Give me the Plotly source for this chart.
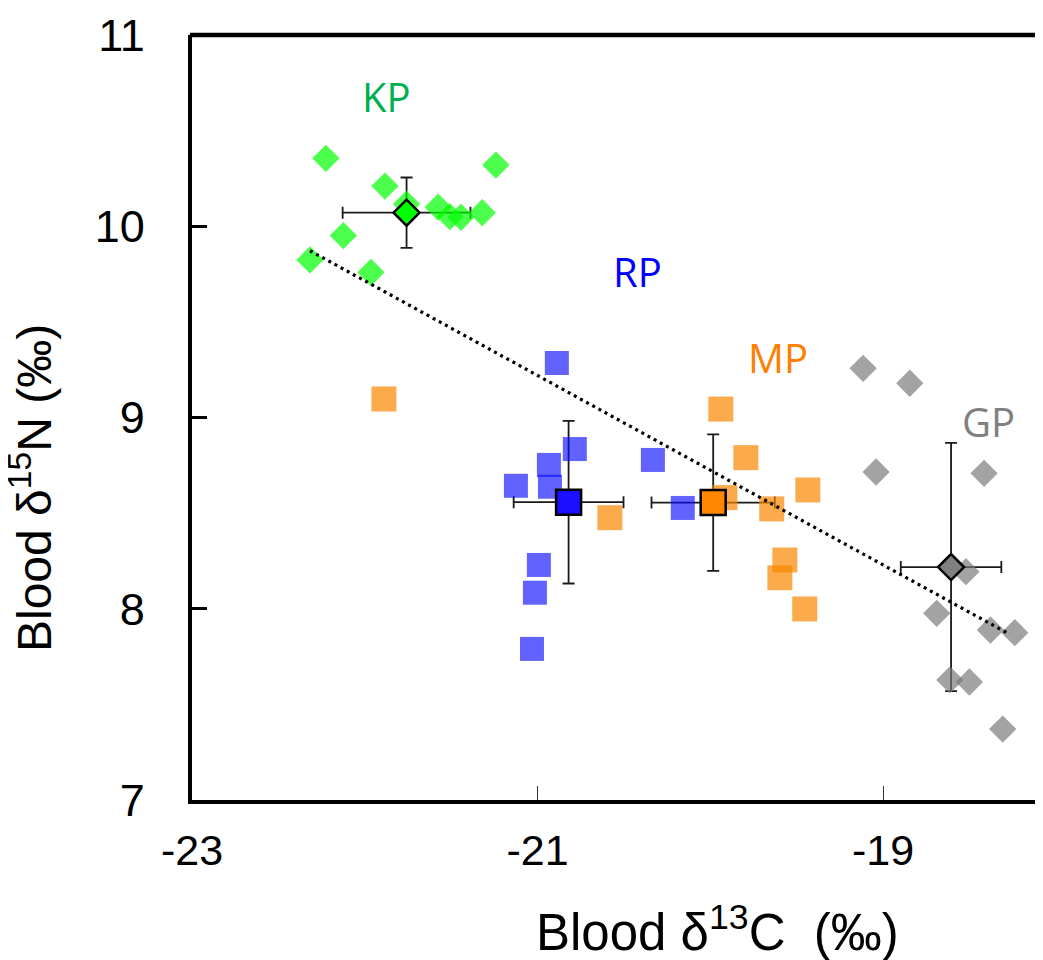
import plotly.graph_objects as go

# ---------------- data ----------------
kp_x = [-22.225, -21.883, -21.241, -21.758, -21.575, -21.507, -21.443, -21.320, -22.124, -22.317, -21.964]
kp_y = [10.355, 10.210, 10.320, 10.116, 10.100, 10.050, 10.047, 10.071, 9.951, 9.824, 9.759]

rp_x = [-20.888, -20.784, -20.934, -20.928, -21.125, -20.992, -21.015, -21.032, -20.332, -20.159]
rp_y = [9.285, 8.835, 8.752, 8.638, 8.643, 8.229, 8.084, 7.790, 8.778, 8.527]

mp_x = [-21.889, -20.581, -19.939, -19.794, -19.915, -19.644, -19.435, -19.568, -19.597, -19.453]
mp_y = [9.097, 8.476, 9.044, 8.790, 8.581, 8.522, 8.621, 8.255, 8.162, 7.999]

gp_x = [-19.115, -18.845, -19.040, -18.415, -18.520, -18.689, -18.378, -18.237, -18.613, -18.500, -18.307]
gp_y = [9.257, 9.179, 8.715, 8.708, 8.194, 7.976, 7.889, 7.875, 7.628, 7.617, 7.371]

groups = ["KP", "RP", "MP", "GP"]
mean_x = [-21.758, -20.820, -19.983, -18.606]
mean_y = [10.071, 8.557, 8.555, 8.218]
sd_x = [0.370, 0.318, 0.357, 0.291]
sd_y = [0.184, 0.425, 0.357, 0.649]

label_x = [-21.877, -20.422, -19.606, -18.388]
label_y = [10.678, 9.761, 9.316, 8.979]

trend_x = [-22.317, -18.266]
trend_y = [9.872, 7.866]

x_ticks = [-23, -21, -19]
y_ticks = [7, 8, 9, 10, 11]

# ---------------- styles ----------------
ind_colors = ["rgba(0,255,0,0.70)", "rgba(10,10,255,0.64)", "rgba(250,136,0,0.70)", "rgba(120,120,120,0.68)"]
mean_colors = ["#00ff00", "#1a10ff", "#ff8800", "#808080"]
label_colors = ["#00b050", "#0000ff", "#ff8000", "#808080"]
ind_symbols = ["diamond", "square", "square", "diamond"]
ind_sizes = [21, 24, 25, 21]
mean_sizes = [20, 25, 25, 20]
ind_data = [(kp_x, kp_y), (rp_x, rp_y), (mp_x, mp_y), (gp_x, gp_y)]

# page body has an 8px margin: figure is shifted by 8px
PL, PT, PW, PH = 184, 27, 851, 765
FIG_W, FIG_H = PL + PW, 952

fig = go.Figure()

# error bars (beneath the points)
for i, g in enumerate(groups):
    fig.add_trace(go.Scatter(
        x=[mean_x[i]], y=[mean_y[i]], mode="markers",
        marker=dict(size=4, color="rgba(0,0,0,0)"),
        error_x=dict(type="data", array=[sd_x[i]], color="#1a1a1a", thickness=1.8, width=6),
        error_y=dict(type="data", array=[sd_y[i]], color="#1a1a1a", thickness=1.8, width=6),
        showlegend=False, hoverinfo="skip"))

# individual points
for i, g in enumerate(groups):
    xs, ys = ind_data[i]
    fig.add_trace(go.Scatter(
        x=xs, y=ys, mode="markers", name=g,
        marker=dict(symbol=ind_symbols[i], size=ind_sizes[i], color=ind_colors[i], line=dict(width=0)),
        showlegend=False))

# regression line
fig.add_trace(go.Scatter(
    x=trend_x, y=trend_y, mode="lines",
    line=dict(color="black", width=3.2, dash="3px,4px"),
    showlegend=False, hoverinfo="skip"))

# group means
for i, g in enumerate(groups):
    fig.add_trace(go.Scatter(
        x=[mean_x[i]], y=[mean_y[i]], mode="markers", name=g + " mean",
        marker=dict(symbol=ind_symbols[i], size=mean_sizes[i], color=mean_colors[i],
                    line=dict(width=2.5, color="black")),
        showlegend=False))

# group labels
for i, g in enumerate(groups):
    fig.add_annotation(x=label_x[i], y=label_y[i], text=g, showarrow=False,
                       font=dict(family="Open Sans", size=40, color=label_colors[i]),
                       xanchor="center", yanchor="middle")

# axis titles as annotations (positions in page pixels relative to plot area)
fig.add_annotation(xref="paper", yref="paper", x=(717 - 192) / PW, y=-(929 - 800) / PH,
                   text="Blood δ<sup>13</sup>C  (‰)", showarrow=False,
                   font=dict(family="Liberation Sans, Arial", size=51, color="black"),
                   xanchor="center", yanchor="middle")
fig.add_annotation(xref="paper", yref="paper", x=-(192 - 31) / PW, y=(800 - 488) / PH,
                   text="Blood δ<sup>15</sup>N (‰)", showarrow=False, textangle=-90,
                   font=dict(family="Liberation Sans, Arial", size=48, color="black"),
                   xanchor="center", yanchor="middle")

# top border
fig.add_shape(type="line", xref="paper", yref="paper", x0=-0.0025, x1=1, y0=1, y1=1,
              line=dict(color="black", width=4.3))

fig.update_layout(
    width=FIG_W, height=FIG_H,
    margin=dict(l=PL, r=0, t=PT, b=FIG_H - PT - PH),
    paper_bgcolor="white", plot_bgcolor="white",
    xaxis=dict(range=[-23, -23 + PW / 172.75], tickvals=x_ticks, ticktext=[str(v) for v in x_ticks],
               showgrid=False, zeroline=False, showline=True, linecolor="black", linewidth=4.3,
               ticks="inside", ticklen=14, tickwidth=1, tickcolor="#333",
               tickfont=dict(family="Liberation Sans, Arial", size=43, color="black"),
               ticklabelstandoff=9),
    yaxis=dict(range=[7, 11], tickvals=y_ticks, ticktext=[str(v) for v in y_ticks],
               showgrid=False, zeroline=False, showline=True, linecolor="black", linewidth=4.3,
               ticks="inside", ticklen=15, tickwidth=3, tickcolor="black",
               tickfont=dict(family="Liberation Sans, Arial", size=45, color="black"),
               ticklabelstandoff=34),
)

fig.write_html("out.html")
